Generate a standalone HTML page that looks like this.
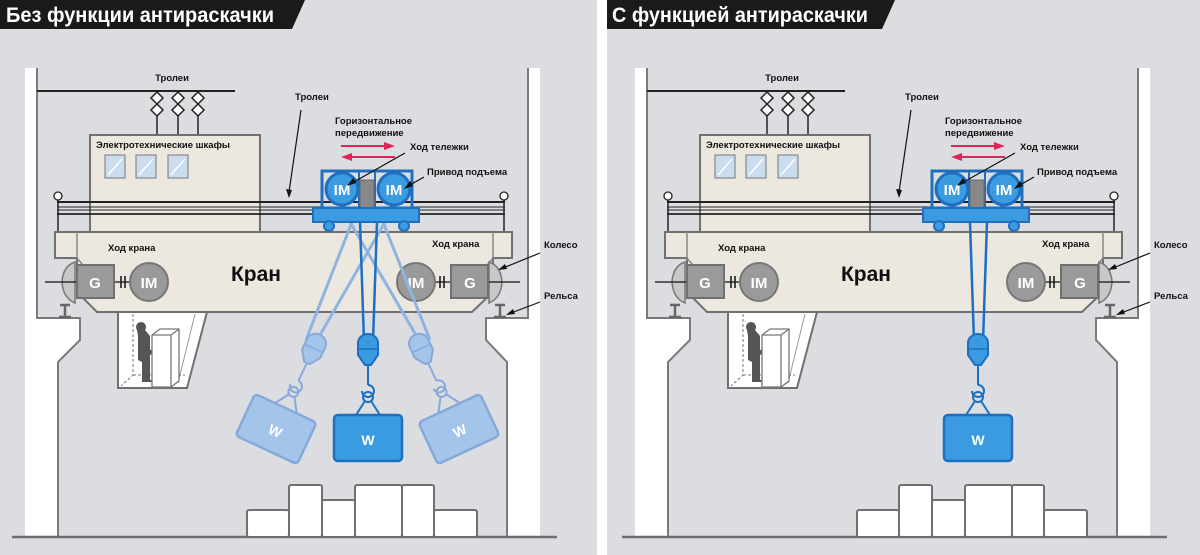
<!DOCTYPE html>
<html><head><meta charset="utf-8"><style>
html,body{margin:0;padding:0;background:#dcdde0;}
svg{display:block;}
text{font-family:"Liberation Sans",sans-serif;}
</style></head><body>
<svg width="1200" height="555" viewBox="0 0 1200 555" xmlns="http://www.w3.org/2000/svg">
<defs>
<g id="base">
  <!-- building walls -->
  <path d="M25 68 H37 V318 H80 V340 L58 362 V537 H25 Z" fill="#fff"/>
  <path d="M528 68 H540 V537 H507 V362 L486 340 V318 H528 Z" fill="#fff"/>
  <path d="M37 68 V318 H80 V340 L58 362 V537" fill="none" stroke="#7a7a7a" stroke-width="2"/>
  <path d="M528 68 V318 H486 V340 L507 362 V537" fill="none" stroke="#7a7a7a" stroke-width="2"/>
  <line x1="12" y1="537" x2="557" y2="537" stroke="#6e6e6e" stroke-width="2.5"/>
  <!-- floor boxes -->
  <g fill="#fff" stroke="#707070" stroke-width="2">
    <rect x="247" y="510" width="42" height="27" rx="2"/>
    <rect x="289" y="485" width="33" height="52" rx="2"/>
    <rect x="322" y="500" width="33" height="37" rx="2"/>
    <rect x="355" y="485" width="47" height="52" rx="2"/>
    <rect x="402" y="485" width="32" height="52" rx="2"/>
    <rect x="434" y="510" width="43" height="27" rx="2"/>
  </g>
  <!-- top trolley line -->
  <line x1="37" y1="91" x2="235" y2="91" stroke="#222" stroke-width="2"/>
  <text x="172" y="81" font-size="9.5" font-weight="bold" text-anchor="middle" fill="#111">Тролеи</text>
  <g fill="#fff" stroke="#222" stroke-width="1.5">
    <path d="M157 92 l6 6 -6 6 -6 -6z M157 104 l6 6 -6 6 -6 -6z"/>
    <path d="M178 92 l6 6 -6 6 -6 -6z M178 104 l6 6 -6 6 -6 -6z"/>
    <path d="M198 92 l6 6 -6 6 -6 -6z M198 104 l6 6 -6 6 -6 -6z"/>
  </g>
  <g stroke="#222" stroke-width="1.5"><line x1="157" y1="116" x2="157" y2="135"/><line x1="178" y1="116" x2="178" y2="135"/><line x1="198" y1="116" x2="198" y2="135"/></g>
  <!-- cabinet -->
  <rect x="90" y="135" width="170" height="98" fill="#ece8e0" stroke="#707070" stroke-width="2"/>
  <text x="96" y="148" font-size="9.5" font-weight="bold" fill="#111">Электротехнические шкафы</text>
  <g fill="#c9ddee" stroke="#777" stroke-width="1">
    <rect x="105" y="155" width="20" height="23"/><rect x="136" y="155" width="20" height="23"/><rect x="168" y="155" width="20" height="23"/>
  </g>
  <g stroke="#fff" stroke-width="1.5"><line x1="108" y1="175" x2="122" y2="159"/><line x1="139" y1="175" x2="153" y2="159"/><line x1="171" y1="175" x2="185" y2="159"/></g>
  <!-- trolley label -->
  <text x="295" y="100" font-size="9.5" font-weight="bold" fill="#111">Тролеи</text>
  <line x1="301" y1="110" x2="289" y2="192" stroke="#111" stroke-width="1.2"/>
  <path d="M289 198 l-3 -9 6 1z" fill="#111"/>
  <!-- rails -->
  <g stroke="#222">
    <line x1="57" y1="202" x2="505" y2="202" stroke-width="2"/>
    <line x1="57" y1="207" x2="505" y2="207" stroke-width="1"/>
    <line x1="57" y1="210" x2="505" y2="210" stroke-width="1"/>
    <line x1="57" y1="214" x2="505" y2="214" stroke-width="1.8"/>
    <line x1="58" y1="200" x2="58" y2="233" stroke-width="1.5"/>
    <line x1="504" y1="200" x2="504" y2="233" stroke-width="1.5"/>
  </g>
  <circle cx="58" cy="196" r="4" fill="#fff" stroke="#222" stroke-width="1.3"/>
  <circle cx="504" cy="196" r="4" fill="#fff" stroke="#222" stroke-width="1.3"/>
  <!-- crane body -->
  <path d="M55 232 H512 V258 H493 V292 L472 312 H97 L77 292 V258 H55 Z" fill="#ece8e0" stroke="#707070" stroke-width="2"/>
  <path d="M77 258 L92 276 M493 258 L478 276" stroke="#888" stroke-width="1.5"/>
  <line x1="77" y1="232" x2="77" y2="258" stroke="#888" stroke-width="1.5"/>
  <line x1="493" y1="232" x2="493" y2="258" stroke="#888" stroke-width="1.5"/>
  <text x="108" y="251" font-size="9.5" font-weight="bold" fill="#111">Ход крана</text>
  <text x="432" y="247" font-size="9.5" font-weight="bold" fill="#111">Ход крана</text>
  <text x="256" y="281" font-size="21" font-weight="bold" text-anchor="middle" fill="#111">Кран</text>
  <!-- wheels + rails -->
  <path d="M75 262 Q63 266 62 282 Q63 298 75 303 Z" fill="#c8c8c8" stroke="#777" stroke-width="1.5"/>
  <path d="M489 262 Q501 266 502 282 Q501 298 489 303 Z" fill="#c8c8c8" stroke="#777" stroke-width="1.5"/>
  <path d="M60 305 H70 M65 305 V317 M59 317 H71" stroke="#666" stroke-width="2.5" fill="none"/>
  <path d="M495 305 H505 M500 305 V317 M494 317 H506" stroke="#666" stroke-width="2.5" fill="none"/>
  <line x1="45" y1="282" x2="148" y2="282" stroke="#111" stroke-width="1.3"/>
  <line x1="417" y1="282" x2="520" y2="282" stroke="#111" stroke-width="1.3"/>
  <rect x="77" y="265" width="37" height="33" fill="#9a9a9a" stroke="#707070" stroke-width="2"/>
  <rect x="451" y="265" width="37" height="33" fill="#9a9a9a" stroke="#707070" stroke-width="2"/>
  <g stroke="#111" stroke-width="1.5"><line x1="121" y1="276" x2="121" y2="288"/><line x1="125" y1="276" x2="125" y2="288"/><line x1="440" y1="276" x2="440" y2="288"/><line x1="444" y1="276" x2="444" y2="288"/></g>
  <circle cx="149" cy="282" r="19" fill="#9a9a9a" stroke="#777" stroke-width="2"/>
  <circle cx="416" cy="282" r="19" fill="#9a9a9a" stroke="#777" stroke-width="2"/>
  <g font-size="15" font-weight="bold" fill="#fff" text-anchor="middle">
    <text x="95" y="288">G</text><text x="470" y="288">G</text>
    <text x="149" y="288">IM</text><text x="416" y="288">IM</text>
  </g>
  <!-- labels right -->
  <text x="544" y="248" font-size="9.5" font-weight="bold" fill="#111">Колесо</text>
  <line x1="540" y1="253" x2="503" y2="268" stroke="#111" stroke-width="1.2"/>
  <path d="M498 270 l7 -6 2 5z" fill="#111"/>
  <text x="544" y="299" font-size="9.5" font-weight="bold" fill="#111">Рельса</text>
  <line x1="540" y1="302" x2="511" y2="313" stroke="#111" stroke-width="1.2"/>
  <path d="M506 315 l7 -6 2 5z" fill="#111"/>
  <!-- cabin -->
  <path d="M118 312 H207 L187 388 H118 Z" fill="#fff" stroke="#707070" stroke-width="2"/>
  <path d="M195 314 L178 383" stroke="#999" stroke-width="1"/>
  <path d="M133 314 V375 L121 386 M133 375 H185" stroke="#777" stroke-width="1" stroke-dasharray="3,2" fill="none"/>
  <path d="M137 330 a5 5 0 1 1 8 0 l5 6 v14 l8 -2 v3 l-8 4 v25 h4 v2 h-12 v-20 l-4 -2 v-24z" fill="#555"/>
  <path d="M152 335 l8 -6 h19 v52 l-8 6 h-19 z" fill="#fff" stroke="#777" stroke-width="1.3"/>
  <path d="M152 335 h19 l8 -6 M171 335 v52" fill="none" stroke="#777" stroke-width="1.3"/>
  <!-- horizontal movement -->
  <text x="335" y="124" font-size="9.5" font-weight="bold" fill="#111">Горизонтальное</text>
  <text x="335" y="136" font-size="9.5" font-weight="bold" fill="#111">передвижение</text>
  <line x1="341" y1="146" x2="386" y2="146" stroke="#e0245a" stroke-width="2"/>
  <path d="M395 146 l-11 -4 v8z" fill="#e0245a"/>
  <line x1="350" y1="157" x2="395" y2="157" stroke="#e0245a" stroke-width="2"/>
  <path d="M341 157 l11 -4 v8z" fill="#e0245a"/>
  <text x="410" y="150" font-size="9.5" font-weight="bold" fill="#111">Ход тележки</text>
  <text x="427" y="175" font-size="9.5" font-weight="bold" fill="#111">Привод подъема</text>
</g>
<g id="trolley">
  <rect x="322" y="171" width="90" height="37" fill="none" stroke="#1e6fc0" stroke-width="3"/>
  <g stroke="#1e6fc0" stroke-width="2"><line x1="344" y1="171" x2="344" y2="208"/><line x1="359" y1="171" x2="359" y2="208"/><line x1="375" y1="171" x2="375" y2="208"/><line x1="391" y1="171" x2="391" y2="208"/></g>
  <rect x="360" y="180" width="14" height="28" fill="#888" stroke="#666"/>
  <circle cx="342" cy="189" r="16" fill="#3a9be0" stroke="#1e6fc0" stroke-width="3"/>
  <circle cx="394" cy="189" r="16" fill="#3a9be0" stroke="#1e6fc0" stroke-width="3"/>
  <text x="342" y="195" font-size="15" font-weight="bold" fill="#fff" text-anchor="middle">IM</text>
  <text x="394" y="195" font-size="15" font-weight="bold" fill="#fff" text-anchor="middle">IM</text>
  <rect x="313" y="208" width="106" height="14" fill="#3a9be0" stroke="#1e6fc0" stroke-width="2"/>
  <circle cx="329" cy="226" r="5" fill="#3a9be0" stroke="#1e6fc0" stroke-width="2"/>
  <circle cx="404" cy="226" r="5" fill="#3a9be0" stroke="#1e6fc0" stroke-width="2"/>
  <line x1="405" y1="153" x2="352" y2="183" stroke="#111" stroke-width="1.2"/>
  <path d="M347 186 l6 -8 3 5z" fill="#111"/>
  <line x1="424" y1="177" x2="410" y2="185" stroke="#111" stroke-width="1.2"/>
  <path d="M404 189 l6 -8 3 5z" fill="#111"/>
</g>
<g id="hook">
  <!-- block at 0,0, hook, box below -->
  <path d="M-10 -10 a10 9 0 0 1 20 0 v12 l-7 10 h-6 l-7 -10z" fill="currentColor" stroke="var(--s)" stroke-width="2"/>
  <path d="M-10 -4 h20" stroke="var(--s)" stroke-width="1.5"/>
  <line x1="0" y1="12" x2="0" y2="32" stroke="var(--s)" stroke-width="2"/>
  <path d="M0 32 a6 6 0 1 1 -6 6" fill="none" stroke="var(--s)" stroke-width="2"/>
  <circle cx="0" cy="44" r="5" fill="none" stroke="var(--s)" stroke-width="2"/>
  <path d="M-3 48 L-12 62 M3 48 L12 62" stroke="var(--s)" stroke-width="2"/>
  <rect x="-34" y="62" width="68" height="46" rx="4" fill="currentColor" stroke="var(--s)" stroke-width="2.5"/>
  <text x="0" y="92" font-size="14" font-weight="bold" fill="#fff" text-anchor="middle">W</text>
</g>
</defs>

<!-- LEFT PANEL -->
<use href="#base"/>
<!-- swinging ropes -->
<g stroke="#8fb3e0" stroke-width="3">
  <line x1="352" y1="222" x2="306" y2="340"/><line x1="385" y1="222" x2="316" y2="342"/>
  <line x1="350" y1="222" x2="420" y2="342"/><line x1="383" y1="222" x2="430" y2="340"/>
</g>
<g style="color:#a4c5ea;--s:#86a9dc">
  <use href="#hook" transform="translate(312,352) rotate(25)"/>
  <use href="#hook" transform="translate(423,352) rotate(-25)"/>
</g>
<g stroke="#1e6fc0" stroke-width="2.5"><line x1="360" y1="222" x2="364" y2="342"/><line x1="377" y1="222" x2="373" y2="342"/></g>
<g style="color:#3a9be0;--s:#1e6fc0"><use href="#hook" transform="translate(368,353)"/></g>
<use href="#trolley"/>
<!-- Title -->
<path d="M0 0 H305 L292 29 H0 Z" fill="#1a1a1a"/>
<text x="6" y="22" font-size="21" font-weight="bold" fill="#fff" textLength="268" lengthAdjust="spacingAndGlyphs">Без функции антираскачки</text>

<!-- separator -->
<rect x="597" y="0" width="10" height="555" fill="#fff"/>

<!-- RIGHT PANEL -->
<g transform="translate(610,0)">
  <use href="#base"/>
  <g stroke="#1e6fc0" stroke-width="2.5"><line x1="360" y1="222" x2="364" y2="342"/><line x1="377" y1="222" x2="373" y2="342"/></g>
  <g style="color:#3a9be0;--s:#1e6fc0"><use href="#hook" transform="translate(368,353)"/></g>
  <use href="#trolley"/>
</g>
<path d="M607 0 H895 L882 29 H607 Z" fill="#1a1a1a"/>
<text x="612" y="22" font-size="21" font-weight="bold" fill="#fff" textLength="256" lengthAdjust="spacingAndGlyphs">С функцией антираскачки</text>
</svg>
</body></html>
